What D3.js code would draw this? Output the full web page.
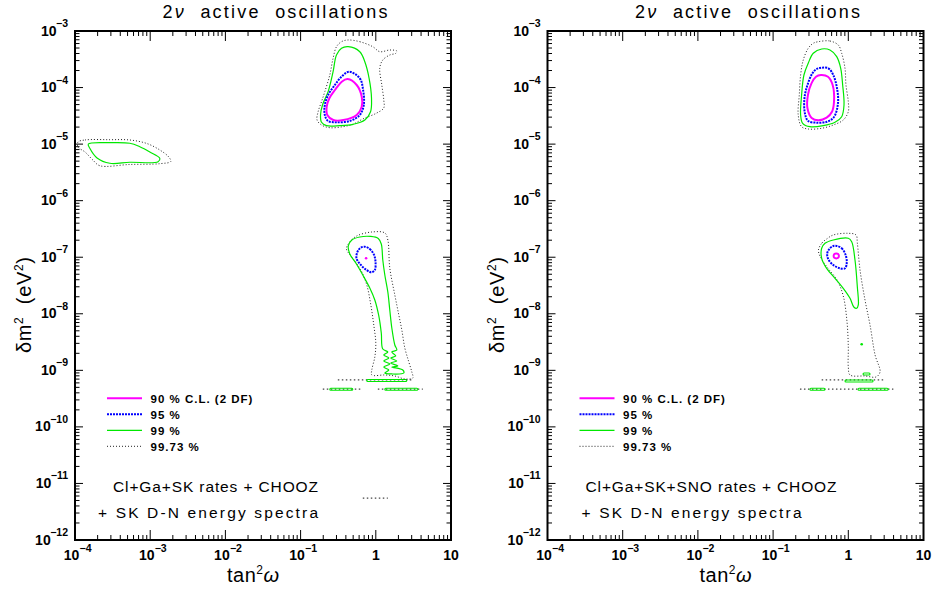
<!DOCTYPE html>
<html>
<head>
<meta charset="utf-8">
<script src="https://cdn.jsdelivr.net/npm/d3@7"></script>
<style>
  body { margin: 0; background: #fff; }
  svg { display: block; }
  text { font-family: "Liberation Sans", Arial, sans-serif; fill: #000; }
</style>
</head>
<body>
<svg id="chart" width="933" height="589"></svg>
<script>
// contour points, as [log10 tan²ω, log10 δm²]

// left panel: Cl+Ga+SK rates + CHOOZ + SK D-N spectra
const lmaL90 = [[-0.374,-3.849],[-0.254,-3.955],[-0.187,-4.162],[-0.187,-4.338],[-0.254,-4.485],[-0.432,-4.574],[-0.565,-4.574],[-0.645,-4.485],[-0.653,-4.338],[-0.618,-4.190],[-0.543,-4.043],[-0.453,-3.896]]
const lmaL95 = [[-0.355,-3.720],[-0.213,-3.836],[-0.169,-4.043],[-0.160,-4.308],[-0.213,-4.485],[-0.346,-4.591],[-0.523,-4.614],[-0.634,-4.591],[-0.678,-4.485],[-0.678,-4.308],[-0.634,-4.132],[-0.545,-3.955],[-0.456,-3.808]]
const lmaL99 = [[-0.368,-3.278],[-0.213,-3.366],[-0.146,-3.543],[-0.089,-3.836],[-0.057,-4.190],[-0.070,-4.427],[-0.146,-4.574],[-0.302,-4.650],[-0.479,-4.674],[-0.656,-4.674],[-0.722,-4.614],[-0.735,-4.485],[-0.709,-4.308],[-0.634,-4.073],[-0.568,-3.720],[-0.523,-3.424],[-0.456,-3.306]]
const lmaL9973 = [[-0.372,-3.159],[-0.213,-3.189],[-0.040,-3.278],[0.053,-3.366],[0.186,-3.336],[0.279,-3.354],[0.266,-3.394],[0.186,-3.424],[0.093,-3.513],[0.053,-3.654],[0.080,-3.955],[0.106,-4.220],[0.106,-4.361],[0.013,-4.450],[-0.173,-4.556],[-0.306,-4.650],[-0.439,-4.692],[-0.612,-4.710],[-0.722,-4.662],[-0.781,-4.574],[-0.767,-4.427],[-0.722,-4.250],[-0.678,-4.073],[-0.612,-3.778],[-0.568,-3.483],[-0.523,-3.278],[-0.456,-3.189]]
const smaL99 = [[-3.823,-4.998],[-3.536,-4.975],[-3.271,-4.985],[-3.138,-5.046],[-3.005,-5.139],[-2.872,-5.251],[-2.895,-5.311],[-3.271,-5.321],[-3.536,-5.339],[-3.707,-5.245],[-3.803,-5.074]]
const smaL9973 = [[-3.960,-4.963],[-3.867,-4.927],[-3.536,-4.922],[-3.271,-4.927],[-3.045,-4.989],[-2.872,-5.104],[-2.753,-5.228],[-2.726,-5.307],[-2.872,-5.346],[-3.271,-5.360],[-3.670,-5.382],[-3.763,-5.281],[-3.867,-5.139],[-3.960,-5.051]]
const lowL90 = [[-0.129,-7.019]]
const lowL95 = [[-0.146,-6.814],[-0.080,-6.854],[-0.023,-6.960],[-0.004,-7.079],[-0.013,-7.226],[-0.057,-7.266],[-0.124,-7.226],[-0.199,-7.137],[-0.257,-7.019],[-0.243,-6.902],[-0.199,-6.831]]
const lowL99 = [[-0.366,-6.801],[-0.319,-6.695],[-0.213,-6.642],[-0.066,-6.633],[0.033,-6.669],[0.073,-6.766],[0.093,-7.049],[0.120,-7.314],[0.160,-7.615],[0.186,-7.933],[0.213,-8.251],[0.253,-8.552],[0.279,-8.640],[0.213,-8.675],[0.266,-8.746],[0.199,-8.781],[0.279,-8.835],[0.199,-8.870],[0.293,-8.923],[0.213,-8.941],[0.359,-8.994],[0.372,-9.047],[0.213,-9.064],[0.120,-9.047],[0.173,-8.994],[0.106,-8.941],[0.186,-8.888],[0.106,-8.835],[0.173,-8.781],[0.106,-8.728],[0.160,-8.675],[0.093,-8.622],[0.073,-8.339],[0.040,-8.039],[-0.013,-7.756],[-0.080,-7.544],[-0.173,-7.314],[-0.266,-7.102],[-0.346,-6.943]]
const lowL9973 = [[-0.390,-6.854],[-0.346,-6.731],[-0.253,-6.624],[-0.053,-6.554],[0.120,-6.571],[0.160,-6.695],[0.186,-7.190],[0.253,-7.668],[0.306,-8.021],[0.346,-8.286],[0.386,-8.605],[0.439,-8.852],[0.479,-9.029],[0.492,-9.135],[0.386,-9.153],[0.253,-9.100],[0.120,-9.082],[-0.053,-9.082],[-0.053,-8.994],[-0.013,-8.764],[0,-8.516],[-0.027,-8.198],[-0.066,-7.844],[-0.120,-7.491],[-0.199,-7.226],[-0.319,-6.996]]
// thin horizontal islands: [log10 tan² from, log10 tan² to, log10 δm²]
const bandsL99 = [[-0.120,0.412,-9.179],[-0.612,-0.306,-9.334],[0.120,0.559,-9.334]]
const bandsL9973 = [[-0.505,0.492,-9.170],[-0.705,-0.186,-9.334],[0.027,0.625,-9.334],[-0.173,0.160,-11.261]]

// right panel: Cl+Ga+SK+SNO rates + CHOOZ + SK D-N spectra
const lmaR90 = [[-0.364,-3.778],[-0.270,-3.808],[-0.208,-3.955],[-0.190,-4.250],[-0.217,-4.427],[-0.288,-4.533],[-0.399,-4.579],[-0.487,-4.538],[-0.543,-4.367],[-0.537,-4.132],[-0.490,-3.925],[-0.430,-3.808]]
const lmaR95 = [[-0.354,-3.649],[-0.266,-3.659],[-0.200,-3.778],[-0.150,-4.013],[-0.137,-4.273],[-0.190,-4.521],[-0.284,-4.604],[-0.417,-4.621],[-0.533,-4.591],[-0.577,-4.455],[-0.583,-4.190],[-0.543,-3.955],[-0.477,-3.748],[-0.421,-3.672]]
const lmaR99 = [[-0.354,-3.318],[-0.244,-3.336],[-0.154,-3.454],[-0.101,-3.659],[-0.075,-3.955],[-0.057,-4.308],[-0.088,-4.515],[-0.177,-4.614],[-0.333,-4.674],[-0.510,-4.692],[-0.607,-4.632],[-0.634,-4.485],[-0.621,-4.132],[-0.590,-3.778],[-0.533,-3.571],[-0.466,-3.394]]
const lmaR9973 = [[-0.399,-3.189],[-0.244,-3.177],[-0.133,-3.248],[-0.088,-3.394],[-0.044,-3.659],[-0.031,-3.955],[0,-4.250],[0,-4.427],[-0.067,-4.574],[-0.200,-4.662],[-0.354,-4.720],[-0.533,-4.733],[-0.621,-4.692],[-0.666,-4.485],[-0.652,-4.132],[-0.634,-3.778],[-0.599,-3.513],[-0.533,-3.306],[-0.466,-3.217]]
const lowR90 = [[-0.125,-6.978],[-0.135,-6.945],[-0.160,-6.935],[-0.185,-6.945],[-0.195,-6.978],[-0.185,-7.011],[-0.160,-7.021],[-0.135,-7.011]]
const lowR95 = [[-0.154,-6.801],[-0.088,-6.842],[-0.035,-6.960],[-0.021,-7.107],[-0.044,-7.196],[-0.111,-7.196],[-0.200,-7.137],[-0.266,-7.036],[-0.280,-6.930],[-0.244,-6.842],[-0.200,-6.801]]
const lowR99 = [[-0.354,-6.842],[-0.310,-6.754],[-0.200,-6.695],[0,-6.665],[0.045,-6.725],[0.089,-7.049],[0.120,-7.521],[0.133,-7.844],[0.112,-7.903],[0.076,-7.885],[0.023,-7.726],[-0.067,-7.549],[-0.177,-7.372],[-0.288,-7.196],[-0.354,-7.019]]
const lowR9973 = [[-0.397,-6.872],[-0.350,-6.748],[-0.288,-6.678],[-0.200,-6.607],[0,-6.577],[0.103,-6.607],[0.120,-6.748],[0.156,-7.226],[0.222,-7.756],[0.289,-8.198],[0.356,-8.728],[0.422,-9.029],[0.369,-9.117],[0.222,-9.100],[0.023,-9.082],[0,-8.941],[0,-8.587],[-0.017,-8.145],[-0.067,-7.685],[-0.150,-7.402],[-0.284,-7.173],[-0.377,-6.978]]
const dotR99 = [[0.178,-8.539]]
const bandsR99 = [[0.196,0.289,-9.064],[-0.044,0.329,-9.188],[-0.510,-0.310,-9.334],[0.129,0.529,-9.334]]
const bandsR9973 = [[-0.354,0.466,-9.170],[-0.643,0.599,-9.334]]

const levels = ['90 % C.L. (2 DF)', '95 %', '99 %', '99.73 %']
const xDecades = [-4, -3, -2, -1, 0, 1]
const xTickText = [['10', '−4'], ['10', '−3'], ['10', '−2'], ['10', '−1'], ['1', ''], ['10', '']]
const yDecades = [-3, -4, -5, -6, -7, -8, -9, -10, -11, -12]
const notesL = ['Cl+Ga+SK rates + CHOOZ', '+ SK D-N energy spectra']
const notesR = ['Cl+Ga+SK+SNO rates + CHOOZ', '+ SK D-N energy spectra']

const levelStyle = [
    { color: '#ff00ff', width: 2, dash: null },
    { color: '#0000ff', width: 2, dash: '2,1' },
    { color: '#00e800', width: 1.2, dash: null },
    { color: '#222', width: 1, dash: '1,2' }
]

const panels = [{
        left: 75, notes: notesL, noteX: [38, 23], noteW: [205, 220],
        loops: [[3, lmaL9973], [3, smaL9973], [3, lowL9973], [2, lmaL99], [2, smaL99], [2, lowL99], [1, lmaL95], [1, lowL95], [0, lmaL90]],
        dots: [[0, lowL90]],
        bands: [[3, bandsL9973], [2, bandsL99]]
    },
    {
        left: 547.5, notes: notesR, noteX: [38, 34], noteW: [251, 220],
        loops: [[3, lmaR9973], [3, lowR9973], [2, lmaR99], [2, lowR99], [1, lmaR95], [1, lowR95], [0, lmaR90], [0, lowR90]],
        dots: [[2, dotR99]],
        bands: [[3, bandsR9973], [2, bandsR99]]
    }
]

const svg = d3.select('#chart')
const W = 376, H = 509, TOP = 31

function drawPanel(p, pi) {
    let g = svg.append('g').attr('transform', `translate(${p.left},${TOP})`)
    let x = d3.scaleLog().domain([1e-4, 10]).range([0, W])
    let y = d3.scaleLog().domain([1e-12, 1e-3]).range([H, 0])
    let isMajor = v => Math.abs(Math.log10(v) - Math.round(Math.log10(v))) < 1e-6

    let clipId = 'clip' + pi
    g.append('clipPath').attr('id', clipId).append('rect').attr('width', W).attr('height', H)
    let plot = g.append('g').attr('clip-path', `url(#${clipId})`)

    let line = d3.line()
        .x(d => x(10 ** d[0]))
        .y(d => y(10 ** d[1]))
        .curve(d3.curveCatmullRomClosed.alpha(0.5))

    p.bands.forEach(([lvl, list]) => {
        let s = levelStyle[lvl]
        if (lvl == 3) {
            // isolated 99.73% islands: a single dotted dash row
            plot.selectAll(null).data(list).join('line')
                .attr('x1', d => x(10 ** d[0]))
                .attr('x2', d => x(10 ** d[1]))
                .attr('y1', d => y(10 ** d[2]))
                .attr('y2', d => y(10 ** d[2]))
                .style('stroke', '#444')
                .style('stroke-width', 1.2)
                .style('stroke-dasharray', '1.5,2.5')
        } else {
            plot.selectAll(null).data(list).join('rect')
                .attr('x', d => x(10 ** d[0]))
                .attr('width', d => x(10 ** d[1]) - x(10 ** d[0]))
                .attr('y', d => y(10 ** d[2]) - 1)
                .attr('height', 2)
                .attr('rx', 1)
                .style('fill', 'none')
                .style('stroke', s.color)
                .style('stroke-width', 1.1)
        }
    })

    p.loops.forEach(([lvl, pts]) => {
        let s = levelStyle[lvl]
        plot.append('path')
            .attr('d', line(pts))
            .style('fill', 'none')
            .style('stroke', s.color)
            .style('stroke-width', s.width)
            .style('stroke-dasharray', s.dash)
    })

    p.dots.forEach(([lvl, pts]) => {
        plot.selectAll(null).data(pts).join('circle')
            .attr('cx', d => x(10 ** d[0]))
            .attr('cy', d => y(10 ** d[1]))
            .attr('r', 1.3)
            .style('fill', levelStyle[lvl].color)
    })

    // ticks on all four sides, pointing inwards
    let xt = x.ticks()
    let yt = y.ticks()
    let tk = g.append('g').style('stroke', '#000').style('stroke-width', 1)
    xt.forEach(v => {
        let L = isMajor(v) ? 10 : 5
        let px = x(v)
        tk.append('line').attr('x1', px).attr('x2', px).attr('y1', H).attr('y2', H - L)
        tk.append('line').attr('x1', px).attr('x2', px).attr('y1', 0).attr('y2', L)
    })
    yt.forEach(v => {
        let L = isMajor(v) ? 8 : 4.5
        let py = y(v)
        tk.append('line').attr('x1', 0).attr('x2', L).attr('y1', py).attr('y2', py)
        tk.append('line').attr('x1', W).attr('x2', W - L).attr('y1', py).attr('y2', py)
    })

    g.append('rect').attr('width', W).attr('height', H)
        .style('fill', 'none').style('stroke', '#000').style('stroke-width', 2)

    // x tick labels
    xDecades.forEach((e, i) => {
        let px = x(10 ** e)
        let [base, sup] = xTickText[i]
        if (sup) {
            g.append('text').attr('x', px - 3.5).attr('y', H + 20)
                .attr('text-anchor', 'middle').style('font-size', '14px').style('font-weight', 'bold').text(base)
            g.append('text').attr('x', px + 4.5).attr('y', H + 12)
                .style('font-size', '10.5px').style('font-weight', 'bold').text(sup)
        } else {
            g.append('text').attr('x', px).attr('y', H + 20)
                .attr('text-anchor', 'middle').style('font-size', '14px').style('font-weight', 'bold').text(base)
        }
    })

    // y tick labels
    yDecades.forEach(e => {
        let py = y(10 ** e)
        let s = g.append('text').attr('x', -7).attr('y', py - 4)
            .attr('text-anchor', 'end').style('font-size', '10.5px').style('font-weight', 'bold').text('−' + (-e))
        let sw = s.node().getComputedTextLength()
        g.append('text').attr('x', -7 - sw + 0.5).attr('y', py + 4.5)
            .attr('text-anchor', 'end').style('font-size', '14px').style('font-weight', 'bold').text('10')
    })

    // title
    let t = g.append('text').attr('x', W / 2 + 12).attr('y', -13.5)
        .attr('text-anchor', 'middle').style('font-size', '18px')
        .attr('textLength', 225).attr('lengthAdjust', 'spacing')
        .attr('xml:space', 'preserve')
    t.append('tspan').text('2')
    t.append('tspan').style('font-style', 'italic').text('ν')
    t.append('tspan').text('  active  oscillations')

    // axis titles
    let xl = g.append('text').attr('x', W / 2 - 10).attr('y', H + 41.5)
        .attr('text-anchor', 'middle').style('font-size', '20px')
        .attr('textLength', 52).attr('lengthAdjust', 'spacing')
    xl.append('tspan').text('tan')
    xl.append('tspan').attr('dy', -8).style('font-size', '12px').text('2')
    xl.append('tspan').attr('dy', 8).style('font-style', 'italic').text('ω')

    let yl = g.append('text')
        .attr('transform', `translate(${-44},${274}) rotate(-90)`)
        .attr('text-anchor', 'middle').style('font-size', '20px')
        .attr('textLength', 96).attr('lengthAdjust', 'spacing')
        .attr('xml:space', 'preserve')
    yl.append('tspan').text('δm')
    yl.append('tspan').attr('dy', -8).style('font-size', '12px').text('2')
    yl.append('tspan').attr('dy', 8).text('  (eV')
    yl.append('tspan').attr('dy', -8).style('font-size', '12px').text('2')
    yl.append('tspan').attr('dy', 8).text(')')

    // legend
    let lg = g.append('g')
    levels.forEach((lab, i) => {
        let s = levelStyle[i]
        let ly = 367.3 + i * 16
        lg.append('line').attr('x1', 32).attr('x2', 67).attr('y1', ly).attr('y2', ly)
            .style('stroke', s.color).style('stroke-width', s.width).style('stroke-dasharray', s.dash)
        lg.append('text').attr('x', 75.5).attr('y', ly + 4.5)
            .style('font-size', '11.5px').style('font-weight', 'bold').style('letter-spacing', '1px')
            .attr('xml:space', 'preserve')
            .text(lab)
    })

    // notes
    p.notes.forEach((n, i) => {
        g.append('text').attr('x', p.noteX[i]).attr('y', 460.7 + i * 26.5)
            .style('font-size', '15.5px')
            .attr('textLength', p.noteW[i]).attr('lengthAdjust', 'spacing')
            .text(n)
    })
}

panels.forEach(drawPanel)
</script>
</body>
</html>
